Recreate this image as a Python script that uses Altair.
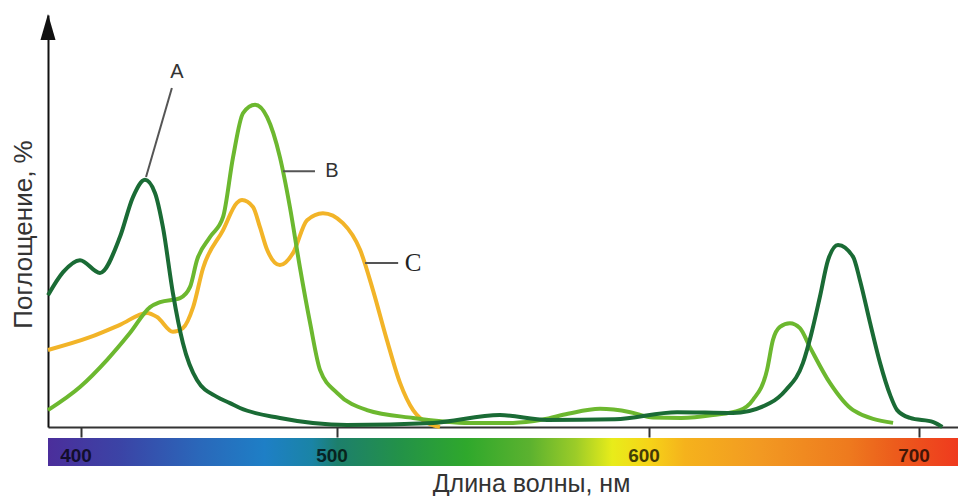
import altair as alt
import pandas as pd

# ---- data (wavelength, nm ; absorption, % of plot height) ----
wl_a = [387.1, 393.0, 399.6, 407.4, 415.2, 420.3, 425.0, 428.9, 432.0, 435.9, 439.8, 445.3,
        453.1, 458.2, 462.1, 477.7, 503.2, 530.8, 552.2, 567.3, 589.1, 610.4, 631.1, 644.8,
        650.7, 657.0, 660.0, 663.3, 666.3, 670.0, 675.6, 678.1, 681.8, 685.6, 689.3, 691.9,
        696.7, 705.3, 708.6]
abs_a = [32.0, 37.6, 40.5, 37.4, 46.1, 55.8, 60.0, 56.8, 48.5, 32.5, 20.4, 11.4,
         7.3, 5.8, 4.6, 2.2, 0.5, 1.0, 2.9, 1.7, 1.9, 3.6, 3.4, 5.8,
         9.0, 15.5, 22.3, 31.6, 40.5, 44.2, 41.3, 35.7, 25.5, 15.5, 7.8, 4.1,
         2.2, 1.2, 0.0]

wl_b = [387.1, 399.6, 410.2, 419.1, 427.0, 430.9, 438.7, 442.6, 445.3, 450.4, 455.5, 459.4,
        463.3, 468.0, 472.7, 477.7, 481.6, 485.5, 489.5, 493.4, 500.0, 509.6, 524.4, 542.6,
        556.4, 566.0, 574.0, 584.3, 594.0, 601.5, 612.0, 623.7, 633.7, 638.5, 643.7, 645.9,
        648.5, 652.2, 655.9, 659.6, 667.0, 675.6, 690.4]
abs_b = [4.1, 9.7, 16.3, 22.8, 29.1, 30.3, 31.3, 34.0, 40.5, 46.1, 51.0, 65.5,
         76.2, 78.2, 75.2, 65.5, 53.4, 38.8, 25.2, 13.8, 8.3, 4.1, 2.2, 1.0,
         1.0, 1.8, 3.2, 4.4, 3.6, 2.3, 2.2, 2.9, 4.1, 6.6, 13.8, 21.1,
         24.3, 25.2, 24.0, 19.4, 10.7, 4.1, 1.0]

wl_c = [387.1, 403.5, 415.2, 425.8, 429.7, 435.9, 439.8, 443.8, 447.7, 455.5, 460.9, 462.9,
        467.2, 469.9, 472.7, 477.7, 482.8, 488.3, 494.5, 501.9, 507.4, 511.5, 516.0, 520.2,
        524.4, 526.6, 533.0]
abs_c = [18.7, 21.8, 24.8, 27.7, 26.7, 23.1, 24.0, 29.1, 38.6, 47.8, 54.4, 55.1,
         53.4, 48.5, 43.0, 39.3, 42.2, 50.2, 51.9, 49.5, 43.0, 33.3, 21.1, 10.7,
         4.1, 2.2, 0.0]

tick_labels = [400, 500, 600, 700]

# leader lines and labels
lab_names = ["A", "B", "C"]
lab_x1 = [435.5, 478.9, 509.0]
lab_y1 = [82.3, 62.1, 39.8]
lab_x2 = [425.4, 491.4, 519.6]
lab_y2 = [60.7, 62.1, 39.8]
lab_tx = [437.5, 498.0, 524.4]
lab_ty = [86.2, 62.1, 39.8]

# ---- tables ----
rows = []
for name, xs, ys in [("A", wl_a, abs_a), ("B", wl_b, abs_b), ("C", wl_c, abs_c)]:
    for x, y in zip(xs, ys):
        rows.append({"pigment": name, "wl": x, "v": y})
df = pd.DataFrame(rows)
ann = pd.DataFrame({"name": lab_names, "x1": lab_x1, "y1": lab_y1, "x2": lab_x2,
                    "y2": lab_y2, "tx": lab_tx, "ty": lab_ty})
ticks_df = pd.DataFrame({"wl": tick_labels, "lab": [str(t) for t in tick_labels]})
one = pd.DataFrame({"k": [0]})

W, H = 910, 412
xscale = alt.Scale(domain=[387.1, 400, 500, 600, 700, 714.4],
                   range=[0, 33, 289, 601, 871, 910], zero=False, nice=False)
yscale = alt.Scale(domain=[0, 100], zero=True, nice=False)

xaxis = alt.Axis(values=tick_labels, labels=False, ticks=True, tickSize=10, tickWidth=2,
                 tickColor="#333333", domainColor="#333333", domainWidth=2, grid=False,
                 title="Длина волны, нм", titleX=483, titleY=56, titleFontSize=25,
                 titleFont="Liberation Sans", titleFontWeight="normal", titleColor="#333333",
                 titleAlign="center", titleBaseline="middle")
yaxis = alt.Axis(labels=False, ticks=False, grid=False, domainColor="#111111", domainWidth=2,
                 title="Поглощение, %", titleX=-25, titleY=219, titleAngle=270,
                 titleFontSize=26, titleFont="Liberation Sans", titleFontWeight="normal",
                 titleColor="#333333", titleAlign="center", titleBaseline="middle")

colors = {"A": "#1a6b35", "B": "#6cb82f", "C": "#f2b428"}

base = alt.Chart(df)
layers = []
for name in ["C", "B", "A"]:
    layers.append(
        base.transform_filter(alt.datum.pigment == name)
        .mark_line(strokeWidth=4, interpolate="monotone", color=colors[name])
        .encode(x=alt.X("wl:Q", scale=xscale, axis=xaxis),
                y=alt.Y("v:Q", scale=yscale, axis=yaxis))
    )

gradient = alt.Gradient(
    gradient="linear", x1=0, x2=1, y1=0, y2=0,
    stops=[
        alt.GradientStop(offset=0.0, color="#4b2e9b"),
        alt.GradientStop(offset=0.08, color="#3b44a6"),
        alt.GradientStop(offset=0.167, color="#2a68ba"),
        alt.GradientStop(offset=0.238, color="#1e7fc6"),
        alt.GradientStop(offset=0.29, color="#1a84a6"),
        alt.GradientStop(offset=0.318, color="#1d7f6c"),
        alt.GradientStop(offset=0.387, color="#239248"),
        alt.GradientStop(offset=0.46, color="#2fa82c"),
        alt.GradientStop(offset=0.53, color="#5cb22f"),
        alt.GradientStop(offset=0.58, color="#9ccc28"),
        alt.GradientStop(offset=0.62, color="#e8ec1a"),
        alt.GradientStop(offset=0.66, color="#f6d418"),
        alt.GradientStop(offset=0.70, color="#f5b21c"),
        alt.GradientStop(offset=0.78, color="#f29a22"),
        alt.GradientStop(offset=0.88, color="#ee7a1e"),
        alt.GradientStop(offset=0.93, color="#ec5c1c"),
        alt.GradientStop(offset=1.0, color="#ef3a1e"),
    ],
)
bar = alt.Chart(one).mark_rect(color=gradient).encode(
    x=alt.value(0), x2=alt.value(W), y=alt.value(423), y2=alt.value(451))

tick_text = alt.Chart(ticks_df).mark_text(
    font="Liberation Sans", fontSize=19, fontWeight="bold", color="#000000",
    opacity=0.72, dx=-5, baseline="middle", align="center").encode(
    x=alt.X("wl:Q", scale=xscale), y=alt.value(441), text="lab:N")

arrow = alt.Chart(one).mark_point(
    shape="M0,-1L0.58,1L-0.58,1Z", size=676, filled=True, color="#111111", opacity=1
).encode(x=alt.value(0), y=alt.value(12))

leaders = alt.Chart(ann).mark_rule(color="#555555", strokeWidth=2).encode(
    x=alt.X("x1:Q", scale=xscale), x2="x2:Q",
    y=alt.Y("y1:Q", scale=yscale), y2="y2:Q")

txt_ab = alt.Chart(ann).transform_filter(alt.datum.name != "C").mark_text(
    font="Liberation Sans", fontSize=20, color="#333333", align="center", baseline="middle"
).encode(x=alt.X("tx:Q", scale=xscale), y=alt.Y("ty:Q", scale=yscale), text="name:N")

txt_c = alt.Chart(ann).transform_filter(alt.datum.name == "C").mark_text(
    font="Liberation Serif", fontSize=25, color="#222222", align="center", baseline="middle"
).encode(x=alt.X("tx:Q", scale=xscale), y=alt.Y("ty:Q", scale=yscale), text="name:N")

chart = alt.layer(bar, tick_text, *layers, leaders, txt_ab, txt_c, arrow).properties(
    width=W, height=H,
    autosize=alt.AutoSizeParams(type="none"),
    padding={"left": 40, "top": 7, "right": 0, "bottom": 69},
    background="white",
).configure_view(stroke=None)

chart.save("out.html", embed_options={"renderer": "svg", "actions": False})
